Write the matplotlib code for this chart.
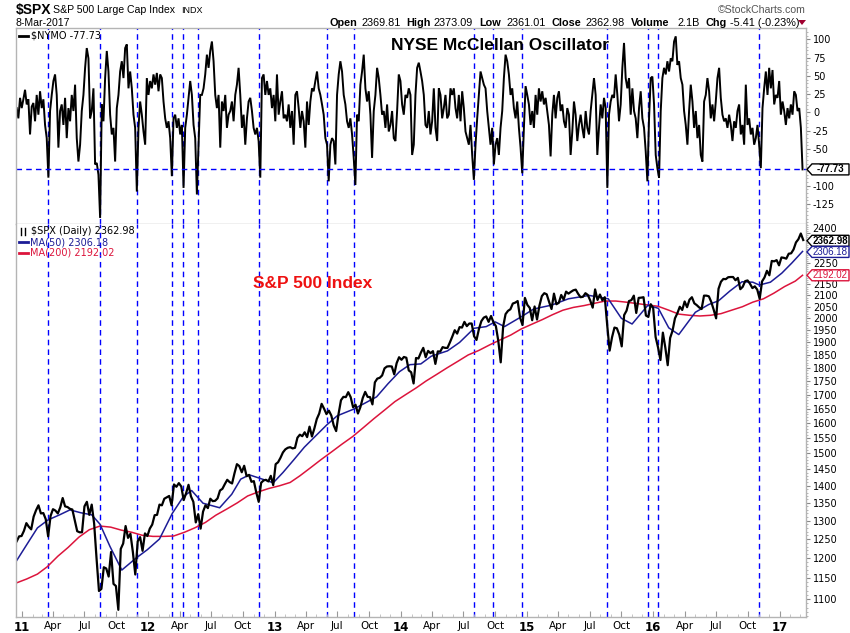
import numpy as np
import pandas as pd
import matplotlib
matplotlib.use('Agg')
import matplotlib.pyplot as plt
import matplotlib.dates as mdates
from matplotlib.lines import Line2D
from matplotlib.patches import Polygon
from matplotlib.ticker import FixedLocator, FuncFormatter, NullFormatter

# ---------------- data ----------------
nymo_start, nymo_end = '2010-12-17', '2017-03-08'
nymo = [
    6, -8, 20, 6, 18, 31, 11, 18, -30, 8, 13, -12, 24, -3, 29, 6, 18, -17, -35, -89,
    2, 24, 43, 52, 24, -48, 2, 11, -17, 20, -35, 6, -12, 24, 2, 38, -35, -67, -44, 2,
    24, 61, 88, 74, -8, 2, 33, -71, -69, -85, -144, 11, -12, 47, 84, 56, -3, -30, -21, -67,
    6, 24, 56, 70, 47, 88, 93, 33, 56, 33, -3, -21, -108, -21, 15, -3, -26, -44, 47, 24,
    43, 33, 52, 38, 54, 29, 52, 47, 15, -8, -21, -12, -35, -87, -8, -3, -21, -8, -30, -17,
    -103, -21, -3, 20, 43, 24, -17, -35, -112, -44, 24, 24, 33, 52, 79, 61, 84, 97, 70, 24,
    6, 24, -48, 15, 2, 24, -21, -3, 2, 15, -12, 24, 38, 61, 24, -21, -3, -44, -8, 15,
    20, 2, -21, -30, -21, -39, -89, 47, 52, 24, 43, 24, 33, 6, 24, -12, 52, -3, 15, 29,
    -8, -3, -12, 11, -21, 2, -44, 24, 29, 6, -21, 2, -12, -48, 15, -17, 15, 33, 29, 43,
    56, 33, 24, 11, -3, -35, -44, -94, -44, -35, -39, -71, 24, 52, 70, 56, 24, 11, -12, -21,
    -8, -30, -62, -99, -3, -12, 38, 56, 79, 33, 15, 29, -3, -62, 2, 24, 61, 47, 24, -3,
    2, -21, 11, -26, -17, 2, -35, -39, 2, 52, 43, 11, -3, 24, 20, 33, 24,
    # second half
    -58, -44, 24, 61, 68, 56, 43, 24, -17, -21, 2, -30, -12, 33, -21, -39, 33, 24, -8, 6,
    24, -8, -3, 33, 24, 33, 6, -8, 24, -12, 29, 6, -26, -35, -44, -17, -58, -92, -44, -8,
    24, 56, 47, 38, 33, 2, -21, -44, -21, -71, -44, -35, -58, -21, 2, 47, 79, 70, 52, 24,
    33, 6, -8, 15, -21, -48, -83, -21, 36, 24, 11, -17, 2, -21, 24, -3, 33, 15, 29, 11,
    20, 2, -17, -60, -3, 24, -8, 20, 29, 2, 11, -12, -21, 6, -3, -58, -26, 15, -3, -39,
    -17, -3, -21, -35, 2, -21, -30, 2, 24, 47, 24, -58, -21, 11, -8, 20, 6, -103, -3, 15,
    24, 20, 52, 24, -12, 11, 61, 95, 47, 33, 47, -3, 33, 2, -8, -35, 6, 29, -8, -21,
    -53, -94, -8, 47, 49, 11, -58, -76, -89, 2, 47, 61, 52, 70, 56, 74, 70, 97, 104, 65,
    70, 47, 38, 2, -17, -44, 2, 38, 15, -21, 2, -35, -17, -58, -67, 15, 24, 47, 29, -8,
    11, -12, 15, 47, 61, 20, -3, -12, -8, -21, -3, -17, -39, -12, -21, 2, 11, -30, -17, -44,
    38, -17, -8, -30, -21, -44, -35, -17, -44, -76, 6, 33, 56, 24, 61, 33, 58, 11, 24, 20,
    43, -3, 15, 2, -17, 6, -8, 11, -3, 29, 24, 2, 6, -21, -77.73,
]

spx_start = '2010-12-17'   # weekly (Friday) readings
spx = [
    1244, 1257, 1258,
    # 2011
    1272, 1293, 1283, 1276, 1311, 1329, 1343, 1320, 1321, 1304, 1257, 1313, 1332, 1328, 1320, 1337,
    1364, 1340, 1338, 1333, 1331, 1300, 1271, 1268, 1268, 1340, 1353, 1316, 1345, 1292, 1199, 1119,
    1124, 1177, 1174, 1154, 1216, 1136, 1131, 1075, 1224, 1238, 1285, 1253, 1264, 1216, 1159, 1244,
    1255, 1219, 1265, 1258,
    # 2012
    1278, 1289, 1315, 1316, 1345, 1343, 1362, 1366, 1370, 1343, 1404, 1397, 1408, 1398, 1358, 1378,
    1403, 1369, 1353, 1295, 1318, 1278, 1325, 1343, 1335, 1362, 1355, 1356, 1363, 1386, 1391, 1405,
    1418, 1411, 1407, 1438, 1466, 1460, 1441, 1461, 1429, 1433, 1412, 1414, 1380, 1353, 1409, 1416,
    1418, 1413, 1430, 1402,
    # 2013
    1466, 1472, 1486, 1503, 1513, 1518, 1520, 1516, 1518, 1551, 1561, 1556, 1569, 1553, 1588, 1555,
    1582, 1614, 1633, 1667, 1650, 1631, 1643, 1626, 1592, 1573, 1632, 1680, 1692, 1691, 1709, 1691,
    1655, 1664, 1633, 1655, 1688, 1710, 1692, 1691, 1665, 1745, 1759, 1762, 1771, 1798, 1805, 1806,
    1805, 1775, 1818, 1841,
    # 2014
    1831, 1842, 1839, 1790, 1783, 1741, 1838, 1836, 1859, 1878, 1841, 1866, 1857, 1865, 1815, 1864,
    1863, 1881, 1878, 1878, 1900, 1924, 1950, 1936, 1963, 1961, 1985, 1967, 1978, 1978, 1925, 1910,
    1955, 1988, 2003, 2008, 1985, 2010, 1983, 1967, 1906, 1821, 1965, 2018, 2032, 2039, 2064, 2068,
    2075, 2003, 1972, 2089,
    # 2015
    2058, 2045, 1992, 2051, 1995, 2055, 2097, 2110, 2105, 2071, 2040, 2108, 2061, 2067, 2102, 2081,
    2117, 2108, 2116, 2123, 2126, 2107, 2092, 2094, 2110, 2102, 2077, 2046, 2127, 2080, 2104, 2078,
    2092, 1971, 1867, 1921, 1961, 1958, 1931, 1884, 2014, 2033, 2075, 2079, 2099, 2023, 2089, 2090,
    2092, 2012, 2006, 2061,
    # 2016
    2044, 1922, 1880, 1830, 1940, 1880, 1810, 1918, 1948, 2000, 2022, 2050, 2036, 2073, 2048, 2081,
    2092, 2065, 2057, 2047, 2040, 2099, 2099, 2096, 2071, 2037, 2000, 2130, 2162, 2175, 2174, 2183,
    2184, 2184, 2169, 2180, 2128, 2139, 2165, 2168, 2153, 2133, 2141, 2126, 2085, 2164, 2182, 2213,
    2192, 2260, 2258, 2264, 2239,
    # 2017
    2277, 2275, 2271, 2295, 2297, 2316, 2351, 2367, 2396, 2363,
]

ma50_dates = ['2010-12-17', '2011-01-15', '2011-02-15', '2011-03-18', '2011-04-20', '2011-05-20',
              '2011-06-20', '2011-07-22', '2011-08-15', '2011-09-13', '2011-10-17', '2011-11-27',
              '2011-12-30', '2012-02-03', '2012-03-11', '2012-04-12', '2012-05-06', '2012-06-08',
              '2012-07-26', '2012-08-30', '2012-09-25', '2012-10-20', '2012-11-18', '2012-12-28',
              '2013-01-25', '2013-02-25', '2013-03-28', '2013-04-28', '2013-06-01', '2013-07-01',
              '2013-08-17', '2013-09-20', '2013-10-23', '2013-11-25', '2013-12-28', '2014-01-27',
              '2014-02-28', '2014-03-30', '2014-05-16', '2014-06-20', '2014-08-01', '2014-09-05',
              '2014-10-01', '2014-10-28', '2014-12-17', '2015-01-20', '2015-03-13', '2015-05-01',
              '2015-06-30', '2015-08-24', '2015-10-01', '2015-11-01', '2015-12-17', '2016-01-16',
              '2016-02-15', '2016-03-15', '2016-05-02', '2016-06-10', '2016-07-08', '2016-08-10',
              '2016-09-14', '2016-10-15', '2016-11-03', '2016-12-05', '2017-01-07', '2017-02-05',
              '2017-03-08']
ma50 = [1194, 1235, 1280, 1302, 1316, 1330, 1322, 1316, 1290, 1230, 1170, 1200,
        1222, 1250, 1320, 1368, 1386, 1349, 1336, 1375, 1420, 1433, 1423, 1409,
        1440, 1479, 1520, 1555, 1594, 1625, 1648, 1670, 1692, 1740, 1785, 1812,
        1815, 1845, 1866, 1900, 1958, 1965, 1985, 1965, 2008, 2040, 2057, 2085,
        2100, 2085, 2000, 1976, 2057, 2043, 1960, 1932, 2026, 2060, 2076, 2120,
        2162, 2160, 2147, 2160, 2202, 2250, 2306.18]

ma200_dates = ['2010-12-15', '2011-01-15', '2011-02-15', '2011-03-15', '2011-04-15', '2011-05-15',
               '2011-06-15', '2011-07-15', '2011-08-15', '2011-09-15', '2011-10-15', '2011-11-15',
               '2011-12-15', '2012-01-15', '2012-02-15', '2012-03-15', '2012-04-15', '2012-05-15',
               '2012-06-15', '2012-07-15', '2012-08-15', '2012-09-15', '2012-10-15', '2012-11-15',
               '2012-12-15', '2013-01-15', '2013-02-15', '2013-03-15', '2013-04-15', '2013-05-15',
               '2013-06-15', '2013-07-15', '2013-08-15', '2013-09-15', '2013-10-15', '2013-11-15',
               '2013-12-15', '2014-01-15', '2014-02-15', '2014-03-15', '2014-04-15', '2014-05-15',
               '2014-06-15', '2014-07-15', '2014-08-15', '2014-09-15', '2014-10-15', '2014-11-15',
               '2014-12-15', '2015-01-15', '2015-02-15', '2015-03-15', '2015-04-15', '2015-05-15',
               '2015-06-15', '2015-07-15', '2015-08-15', '2015-09-15', '2015-10-15', '2015-11-15',
               '2015-12-15', '2016-01-15', '2016-02-15', '2016-03-15', '2016-04-15', '2016-05-15',
               '2016-06-15', '2016-07-15', '2016-08-15', '2016-09-15', '2016-10-15', '2016-11-15',
               '2016-12-15', '2017-01-15', '2017-02-15', '2017-03-08']
ma200 = [1138, 1148, 1160, 1178, 1205, 1228, 1255, 1275, 1285, 1282, 1274, 1268,
         1260, 1257, 1257, 1258, 1268, 1280, 1295, 1315, 1332, 1350, 1370, 1382,
         1392, 1400, 1410, 1430, 1455, 1480, 1505, 1530, 1555, 1585, 1615, 1645,
         1675, 1700, 1725, 1750, 1775, 1800, 1825, 1850, 1868, 1890, 1910, 1930,
         1955, 1975, 1995, 2015, 2035, 2047, 2055, 2065, 2075, 2075, 2070, 2064,
         2058, 2052, 2035, 2018, 2013, 2010, 2013, 2020, 2035, 2050, 2070, 2085,
         2110, 2140, 2165, 2192.02]

signal_dates = ['2011-03-18', '2011-08-15', '2011-12-01', '2012-03-11', '2012-04-12',
                '2012-05-25', '2012-11-18', '2013-06-02', '2013-08-19', '2014-08-01',
                '2014-09-25', '2014-12-18', '2015-08-21', '2015-12-17', '2016-01-16',
                '2016-11-03']

quarter_ticks = pd.date_range('2011-01-01', '2017-01-01', freq='QS')
quarter_labels = []
for d in quarter_ticks:
    if d.month == 1:
        quarter_labels.append(f'{d.year % 100:02d}')
    else:
        quarter_labels.append(d.strftime('%b'))

# ---------------- figure ----------------
W, H = 850, 633
fig = plt.figure(figsize=(8.5, 6.33), dpi=100)
fig.patch.set_facecolor('white')

def fx(x):
    return x / W

def fy(y):
    return 1 - y / H

SANS = ['Liberation Sans', 'DejaVu Sans']
VER = ['DejaVu Sans']
SPINE = '#b4b4b4'
VBLUE = '#0000ff'

ax1 = fig.add_axes([fx(16), fy(224), fx(806) - fx(16), fy(28) - fy(224)])
ax2 = fig.add_axes([fx(16), fy(617), fx(806) - fx(16), fy(224) - fy(617)])

xl = (mdates.date2num(pd.Timestamp('2010-12-15')), mdates.date2num(pd.Timestamp('2017-03-18')))

# oscillator
nx = np.linspace(mdates.date2num(pd.Timestamp(nymo_start)),
                 mdates.date2num(pd.Timestamp(nymo_end)), len(nymo))
ax1.plot(nx, nymo, color='black', lw=1.4, solid_joinstyle='miter')
ax1.axhline(nymo[-1], color=VBLUE, ls=(0, (4, 3)), lw=1)
ax1.set_ylim(-152.3, 115.4)
ax1.set_xlim(xl)

# price
px = mdates.date2num(pd.date_range(spx_start, periods=len(spx), freq='W-FRI'))
ax2.set_yscale('log')
ax2.plot(mdates.date2num(pd.to_datetime(ma200_dates)), ma200, color='#dc143c', lw=1.1)
ax2.plot(mdates.date2num(pd.to_datetime(ma50_dates)), ma50, color='#1c1c96', lw=1.1)
ax2.plot(px, spx, color='black', lw=1.6)
ax2.set_ylim(1058.7, 2445)
ax2.set_xlim(xl)

for d in signal_dates:
    v = mdates.date2num(pd.Timestamp(d))
    for a in (ax1, ax2):
        a.axvline(v, color=VBLUE, ls=(0, (4, 3)), lw=1, zorder=0.5)

# axes styling
for a in (ax1, ax2):
    for s in a.spines.values():
        s.set_color(SPINE)
        s.set_linewidth(1)
    a.yaxis.tick_right()
    a.tick_params(axis='y', which='major', direction='out', length=3, color='#888888',
                  labelsize=7, pad=2, labelcolor='black')
    a.tick_params(axis='y', which='minor', direction='out', length=1.5, color='#aaaaaa')
ax2.spines['top'].set_visible(False)

ax1.set_xticks([])
ax1.yaxis.set_major_locator(FixedLocator([100, 75, 50, 25, 0, -25, -50, -100, -125]))
ax1.yaxis.set_minor_locator(FixedLocator(np.arange(-150, 115, 5)))
ax1.yaxis.set_major_formatter(FuncFormatter(lambda v, p: f'{v:.0f}'))
for t in ax1.get_yticklabels():
    t.set_family(VER)

price_ticks = [v for v in range(1100, 2401, 50) if v not in (2200, 2300, 2350)]
ax2.yaxis.set_major_locator(FixedLocator(price_ticks))
ax2.yaxis.set_minor_locator(FixedLocator(np.arange(1060, 2445, 10)))
ax2.yaxis.set_major_formatter(FuncFormatter(lambda v, p: '' if v >= 2400 else f'{v:.0f}'))
ax2.yaxis.set_minor_formatter(NullFormatter())
for t in ax2.get_yticklabels():
    t.set_family(VER)

ax2.set_xticks(mdates.date2num(quarter_ticks))
ax2.set_xticklabels(quarter_labels)
ax2.xaxis.set_minor_locator(FixedLocator(mdates.date2num(pd.date_range('2011-01-01', '2017-03-01', freq='MS'))))
ax2.tick_params(axis='x', which='major', direction='in', length=4, color='#999999',
                labelsize=7.5, pad=3)
ax2.tick_params(axis='x', which='minor', direction='in', length=2, color='#bbbbbb')
for t in ax2.get_xticklabels():
    t.set_family(VER)
    if t.get_text().isdigit():
        t.set_fontweight('bold')
        t.set_fontsize(8.5)

# panel titles
fig.text(fx(500), fy(45), 'NYSE McClellan Oscillator', ha='center', va='center',
         fontsize=12.5, fontweight='bold', family=SANS)
fig.text(fx(313), fy(284), 'S&P 500 Index', ha='center', va='center',
         fontsize=12.5, fontweight='bold', family=SANS, color='#ee1111')

# header
fig.text(fx(16), fy(10), '$SPX', ha='left', va='center', fontsize=10, fontweight='bold', family=SANS)
fig.text(fx(53), fy(10), 'S&P 500 Large Cap Index', ha='left', va='center', fontsize=7.6, family=SANS)
fig.text(fx(181), fy(10.5), 'INDX', ha='left', va='center', fontsize=6.5, family=SANS)
fig.text(fx(16), fy(23), '8-Mar-2017', ha='left', va='center', fontsize=7.6, family=SANS)
fig.text(fx(806), fy(10), '\u00a9StockCharts.com', ha='right', va='center', fontsize=7.6,
         family=SANS, color='#555555')
hdr = [(330, 'Open', True), (362, '2369.81', False), (406, 'High', True), (434, '2373.09', False),
       (479, 'Low', True), (506, '2361.01', False), (551, 'Close', True), (586, '2362.98', False),
       (631, 'Volume', True), (677, '2.1B', False), (705, 'Chg', True), (730, '-5.41 (-0.23%)', False)]
for x, s, b in hdr:
    fig.text(fx(x), fy(23), s, ha='left', va='center', fontsize=7.8,
             fontweight='bold' if b else 'normal', family=SANS)
fig.add_artist(Polygon([[fx(798), fy(20)], [fx(806), fy(20)], [fx(802), fy(25)]],
                       closed=True, transform=fig.transFigure, fc='#a00030', ec='none'))

# legends
fig.add_artist(Line2D([fx(19), fx(28)], [fy(36), fy(36)], transform=fig.transFigure, color='black', lw=2))
fig.text(fx(31), fy(36), '$NYMO -77.73', ha='left', va='center', fontsize=7, family=VER)
fig.add_artist(Line2D([fx(21), fx(21)], [fy(228), fy(235)], transform=fig.transFigure, color='black', lw=1))
fig.add_artist(Line2D([fx(25), fx(25)], [fy(228), fy(235)], transform=fig.transFigure, color='black', lw=1))
fig.text(fx(31.5), fy(231.5), '$SPX (Daily) 2362.98', ha='left', va='center', fontsize=7, family=VER)
fig.add_artist(Line2D([fx(19), fx(28)], [fy(242), fy(242)], transform=fig.transFigure, color='#1c1c96', lw=2))
fig.text(fx(29.5), fy(242.3), 'MA(50) 2306.18', ha='left', va='center', fontsize=7, family=VER, color='#1c1c96')
fig.add_artist(Line2D([fx(19), fx(28)], [fy(253), fy(253)], transform=fig.transFigure, color='#dc143c', lw=2))
fig.text(fx(29.5), fy(253), 'MA(200) 2192.02', ha='left', va='center', fontsize=7, family=VER, color='#dc143c')

# "2400" price label sits just above the last-price tag
fig.text(fx(812), fy(229.5), '2400', ha='left', va='center', fontsize=7, family=VER)

# value tags on the right axis
def tag(yc, text, ec, tc, bold):
    pts = [[807, yc], [812, yc - 5.5], [849, yc - 5.5], [849, yc + 5.5], [812, yc + 5.5]]
    fig.add_artist(Polygon([[fx(a), fy(b)] for a, b in pts], closed=True,
                           transform=fig.transFigure, fc='white', ec=ec, lw=1, zorder=5))
    fig.text(fx(830.5), fy(yc), text, ha='center', va='center', fontsize=7, family=SANS,
             fontweight='bold' if bold else 'normal', color=tc, zorder=6)

def price_y(p):
    return 232.7 + 469.6 * np.log(2400 / p)

tag(112.5 - 0.732 * nymo[-1], '-77.73', 'black', 'black', True)
tag(price_y(spx[-1] - 0.02) + 0.8, '2362.98', 'black', 'black', True)
tag(price_y(ma50[-1]) + 0.5, '2306.18', '#1c1c96', '#1c1c96', False)
tag(price_y(ma200[-1]), '2192.02', '#dc143c', '#dc143c', False)

fig.savefig('out.png', dpi=100)
